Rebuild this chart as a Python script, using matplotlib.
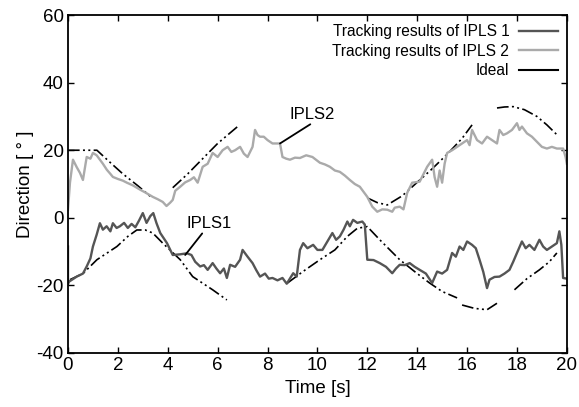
import numpy as np
import matplotlib
matplotlib.use('Agg')
import matplotlib.pyplot as plt
from matplotlib.lines import Line2D

plt.rcParams['font.family'] = ['Liberation Sans', 'DejaVu Sans']
plt.rcParams['axes.unicode_minus'] = False

# 追跡結果 IPLS1
t1 = [0.0, 0.0, 0.02, 0.35, 0.6, 0.75, 0.9, 1.0, 1.15, 1.28, 1.4, 1.55, 1.7, 1.8, 1.95, 2.08,
      2.25, 2.4, 2.55, 2.7, 2.85, 3.0, 3.15, 3.3, 3.42, 3.55, 3.7, 3.97, 4.2, 4.5, 4.77, 4.95,
      5.1, 5.3, 5.45, 5.6, 5.8, 5.95, 6.1, 6.25, 6.37, 6.5, 6.7, 6.9, 7.0, 7.2, 7.4, 7.55, 7.7,
      7.9, 8.05, 8.2, 8.4, 8.6, 8.77, 9.03, 9.17, 9.3, 9.43, 9.6, 9.83, 10.0, 10.2, 10.4, 10.6,
      10.75, 10.9, 11.05, 11.2, 11.3, 11.43, 11.6, 11.8, 11.9, 12.0, 12.25, 12.5, 12.75, 13.0,
      13.15, 13.3, 13.5, 13.7, 13.9, 14.1, 14.35, 14.6, 14.8, 15.0, 15.2, 15.4, 15.55, 15.7,
      15.85, 16.0, 16.2, 16.35, 16.5, 16.65, 16.8, 16.9, 17.1, 17.3, 17.5, 17.7, 17.85, 18.0,
      18.2, 18.35, 18.5, 18.7, 18.9, 19.05, 19.2, 19.4, 19.6, 19.7, 19.78, 19.85, 20.0]
y1 = [-8.5, -19.7, -19.0, -17.4, -16.5, -14.4, -12.0, -8.5, -5.0, -1.6, -3.5, -2.5, -4.0, -1.6,
      -3.0, -2.5, -1.5, -3.0, -1.8, -2.8, -0.8, 1.4, -1.5, 0.5, 1.4, -1.6, -4.5, -7.5, -11.0,
      -10.8, -10.5, -11.0, -13.0, -14.4, -14.0, -15.4, -13.4, -15.0, -16.4, -15.0, -17.8, -13.9,
      -14.5, -12.4, -9.5, -11.5, -13.4, -15.5, -17.4, -16.5, -18.0, -17.8, -18.5, -17.8, -19.5,
      -16.4, -17.4, -9.5, -7.5, -9.0, -8.0, -9.5, -9.5, -7.0, -4.5, -6.5, -5.5, -3.5, -1.1, -2.5,
      -0.6, -1.5, -1.1, -2.0, -12.4, -12.5, -13.4, -14.5, -16.4, -15.0, -13.9, -14.0, -13.4,
      -14.5, -15.4, -16.5, -19.3, -15.9, -16.5, -15.4, -10.4, -11.5, -8.5, -9.5, -7.0, -8.0,
      -9.0, -12.4, -16.0, -20.8, -18.3, -17.5, -17.4, -16.5, -15.4, -13.0, -10.4, -7.0, -9.0,
      -8.0, -9.5, -6.5, -8.5, -9.5, -8.5, -7.5, -4.0, -8.0, -17.8, -18.0]

# 追跡結果 IPLS2
t2 = [0.0, 0.08, 0.2, 0.35, 0.48, 0.6, 0.75, 0.9, 1.0, 1.15, 1.28, 1.4, 1.56, 1.7, 1.8, 2.0,
      2.2, 2.36, 2.6, 2.9, 3.1, 3.4, 3.6, 3.8, 3.95, 4.1, 4.2, 4.3, 4.5, 4.7, 4.9, 5.05, 5.2,
      5.4, 5.6, 5.8, 6.0, 6.2, 6.4, 6.55, 6.7, 6.9, 7.05, 7.2, 7.3, 7.4, 7.5, 7.6, 7.7, 7.85,
      8.0, 8.2, 8.5, 8.6, 8.75, 8.9, 9.1, 9.3, 9.55, 9.8, 10.1, 10.3, 10.5, 10.7, 10.9, 11.1,
      11.3, 11.5, 11.7, 12.0, 12.2, 12.4, 12.6, 12.8, 13.0, 13.1, 13.3, 13.45, 13.6, 13.8, 14.1,
      14.4, 14.6, 14.7, 14.8, 14.9, 15.0, 15.1, 15.2, 15.4, 15.6, 15.8, 16.0, 16.1, 16.2, 16.4,
      16.6, 16.8, 17.0, 17.2, 17.3, 17.45, 17.6, 17.8, 18.0, 18.1, 18.2, 18.4, 18.6, 18.8, 19.0,
      19.2, 19.4, 19.6, 19.85, 19.95, 20.0]
y2 = [2.4, 10.4, 17.2, 15.0, 13.3, 11.2, 18.0, 17.5, 19.2, 18.5, 17.2, 16.0, 14.2, 13.0, 12.1,
      11.5, 11.0, 10.4, 9.6, 8.3, 7.5, 6.2, 5.5, 4.7, 3.5, 4.5, 5.3, 8.0, 9.2, 10.5, 11.2, 12.0,
      10.4, 15.1, 16.0, 19.2, 18.0, 20.0, 21.0, 19.5, 20.0, 21.0, 19.0, 18.0, 19.5, 21.0, 26.0,
      24.5, 24.0, 24.0, 23.0, 22.0, 22.0, 18.0, 17.5, 17.2, 17.8, 17.7, 18.5, 18.0, 16.3, 15.8,
      15.1, 14.0, 13.6, 12.5, 11.2, 10.0, 9.2, 6.2, 3.3, 1.8, 2.5, 2.4, 1.8, 3.0, 3.3, 2.5,
      7.4, 10.4, 10.7, 15.1, 17.2, 12.0, 9.2, 14.0, 10.4, 16.0, 19.2, 20.0, 21.0, 22.0, 23.0,
      21.5, 26.0, 23.0, 22.0, 24.0, 23.0, 22.0, 26.0, 24.5, 25.0, 26.0, 28.0, 26.0, 27.0, 25.0,
      24.0, 22.5, 21.0, 20.5, 21.0, 20.5, 20.5, 18.0, 16.0]

# 理想値 (NaN = 途切れ)
ti = [0.0, 1.16, 1.6, 2.2, 2.8, 3.37, np.nan, 4.2, 4.8, 5.4, 6.0, 6.8, np.nan,
      12.0, 12.4, 12.8, 13.4, 14.0, 14.6, 15.2, 15.8, 16.2, np.nan,
      17.2, 17.5, 17.85, 18.3, 18.8, 19.2, 19.6]
yi = [20.0, 20.0, 17.0, 13.0, 9.5, 5.9, np.nan, 8.9, 13.0, 17.5, 22.0, 27.0, np.nan,
      5.9, 4.5, 3.8, 6.5, 10.5, 14.5, 18.8, 23.5, 27.5, np.nan,
      32.5, 32.8, 32.9, 32.0, 30.0, 27.5, 24.6]
ti1 = [0.08, 0.6, 1.16, 1.96, 2.4, 2.76, 3.1, 3.4, 3.8, 4.5, 5.0, 5.8, 6.37, np.nan,
       8.8, 9.4, 10.1, 10.7, 11.2, 11.6, 12.0, 12.5, 13.3, 14.0, 14.5, 15.0, 15.6, np.nan,
       15.8, 16.3, 16.8, 17.3, np.nan, 17.9, 18.4, 18.9, 19.3, 19.6]
yi1 = [-18.3, -16.5, -12.4, -8.5, -5.5, -3.6, -3.6, -4.5, -7.5, -12.4, -17.4, -21.3, -24.3,
       np.nan, -19.3, -16.0, -12.4, -9.5, -5.5, -3.1, -2.6, -6.5, -12.4, -16.5, -19.3, -21.8,
       -23.7, np.nan, -25.8, -26.8, -27.2, -24.8, np.nan, -21.3, -18.0, -15.4, -13.0, -10.4]

fig = plt.figure(figsize=(5.79, 4.07), dpi=100)
ax = fig.add_axes([0.1174, 0.1327, 0.8616, 0.8303])

ideal_style = dict(color='black', lw=1.2, linestyle=(0, (7, 2, 1.2, 2, 1.2, 2)))
ax.plot(ti, yi, **ideal_style)
ax.plot(ti1, yi1, **ideal_style)
ax.plot(t2, y2, color='#aaaaaa', lw=1.7)
ax.plot(t1, y1, color='#555555', lw=1.7)

ax.set_xlim(0, 20)
ax.set_ylim(-40, 60)
ax.set_xticks(range(0, 21, 2))
ax.set_yticks(range(-40, 61, 20))
ax.tick_params(direction='in', top=True, right=True, labelsize=13.5, length=4, width=1,
               pad=3)
for s in ax.spines.values():
    s.set_linewidth(1.3)
ax.set_xlabel('Time [s]', fontsize=13.5, labelpad=4)
ax.set_ylabel('Direction [ ° ]', fontsize=13.5, labelpad=2)

# 注釈
ax.annotate('IPLS2', xy=(8.5, 22), xytext=(9.8, 28.5), fontsize=12, ha='center', va='bottom',
            arrowprops=dict(arrowstyle='-', color='black', lw=1.3, shrinkA=0, shrinkB=0,
                            relpos=(0.55, 0.0)))
ax.annotate('IPLS1', xy=(4.7, -11), xytext=(5.65, -3.8), fontsize=12, ha='center', va='bottom',
            arrowprops=dict(arrowstyle='-', color='black', lw=1.3, shrinkA=0, shrinkB=0,
                            relpos=(0.4, 0.0)))

handles = [Line2D([], [], color='#555555', lw=1.7),
           Line2D([], [], color='#aaaaaa', lw=1.7),
           Line2D([], [], color='black', lw=1.5)]
labels = ['Tracking results of IPLS 1', 'Tracking results of IPLS 2', 'Ideal']
ax.legend(handles, labels, loc='upper right', frameon=False, markerfirst=False, fontsize=11.2,
          handlelength=2.5, borderaxespad=0.3, labelspacing=0.28, handletextpad=0.6,
          borderpad=0.3)

fig.savefig('out.png', dpi=100)
